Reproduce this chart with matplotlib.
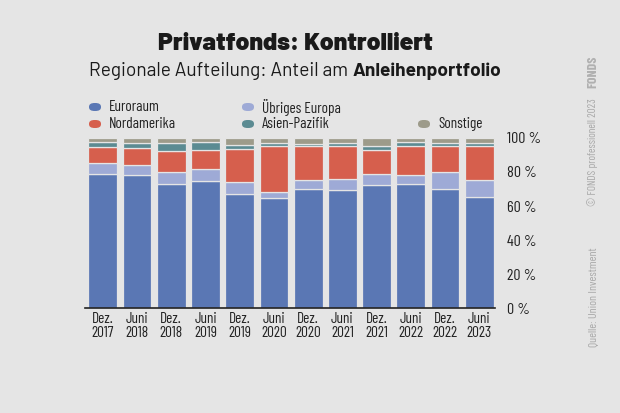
import matplotlib.pyplot as plt
from matplotlib.patches import FancyBboxPatch
import numpy as np

plt.rcParams['font.family'] = ['Barlow Condensed', 'DejaVu Sans']
title_font = ['Barlow', 'DejaVu Sans']

labels = ['Dez.\n2017', 'Juni\n2018', 'Dez.\n2018', 'Juni\n2019', 'Dez.\n2019', 'Juni\n2020',
          'Dez.\n2020', 'Juni\n2021', 'Dez.\n2021', 'Juni\n2022', 'Dez.\n2022', 'Juni\n2023']
euroraum = [79, 78, 73, 74.5, 67, 64.5, 70, 69.5, 72.5, 73, 70, 65]
uebriges_europa = [6.5, 6, 7, 7, 7, 4, 5.5, 6.5, 6.5, 5.5, 10, 10]
nordamerika = [9, 10, 12.5, 11.5, 19.5, 27, 19.5, 19, 14, 17, 15, 20]
asien_pazifik = [3, 3, 4.5, 4.5, 2.5, 1.5, 1.5, 2, 2, 2, 2, 2]
sonstige = [2.5, 3, 3, 2.5, 4, 3, 3.5, 3, 5, 2.5, 3, 3]

series = [('Euroraum', euroraum, '#5a77b4'),
          ('Übriges Europa', uebriges_europa, '#9eaad6'),
          ('Nordamerika', nordamerika, '#d65f4d'),
          ('Asien-Pazifik', asien_pazifik, '#5b8b92'),
          ('Sonstige', sonstige, '#9d9b8a')]

bg = '#e5e5e5'
fig = plt.figure(figsize=(6.2, 4.13), dpi=100, facecolor=bg)
ax = fig.add_axes([0.137, 0.254, 0.661, 0.412], facecolor=bg)

x = np.arange(len(labels))
bottom = np.zeros(len(labels))
for name, vals, col in series:
    ax.bar(x, vals, bottom=bottom, width=0.84, color=col, edgecolor=bg, linewidth=0.9)
    bottom += np.array(vals)

ax.set_xlim(-0.52, 11.45)
ax.set_ylim(0, 100)
for s in ['top', 'left', 'right']:
    ax.spines[s].set_visible(False)
ax.spines['bottom'].set_color('#222222')
ax.spines['bottom'].set_linewidth(1.2)
ax.set_xticks(x)
ax.set_xticklabels(labels, fontsize=11, color='#222222', linespacing=1.0)
ax.tick_params(axis='x', length=0, pad=3)
ax.yaxis.tick_right()
ax.set_yticks([0, 20, 40, 60, 80, 100])
ax.set_yticklabels([f'{v} %' for v in [0, 20, 40, 60, 80, 100]], fontsize=11.5, color='#222222')
ax.tick_params(axis='y', length=0, pad=9)

# title, sized to the reference widths
r = fig.canvas.get_renderer()
title = fig.text(0.476, 0.894, 'Privatfonds: Kontrolliert', ha='center', va='center',
                 fontsize=10, fontweight='black', color='#1a1a1a', family=title_font)
w = title.get_window_extent(r).width
title.set_fontsize(10 * 274 / w)

t1 = fig.text(0, 0.828, 'Regionale Aufteilung: Anteil am ', ha='left', va='center',
              fontsize=10, color='#1a1a1a', family=title_font)
t2 = fig.text(0, 0.828, 'Anleihenportfolio', ha='left', va='center',
              fontsize=10, fontweight='bold', color='#1a1a1a', family=title_font)
wsum = t1.get_window_extent(r).width + t2.get_window_extent(r).width
fs = 10 * 412 / wsum
t1.set_fontsize(fs)
t2.set_fontsize(fs)
w1 = t1.get_window_extent(r).width / 620
w2 = t2.get_window_extent(r).width / 620
x0 = 0.4758 - (w1 + w2) / 2
t1.set_x(x0)
t2.set_x(x0 + w1)

# legend
legend_pos = [(89, 107, 0), (242, 107, 1), (89, 124, 2), (242, 124, 3), (418, 124, 4)]
for px, py, i in legend_pos:
    name, _, col = series[i]
    fx = px / 620
    fy = 1 - py / 413
    p = FancyBboxPatch((fx, fy - 4 / 413), 12 / 620, 8 / 413,
                       boxstyle='round,pad=0,rounding_size=0.009',
                       transform=fig.transFigure, facecolor=col, edgecolor='none')
    fig.add_artist(p)
    fig.text(fx + 20 / 620, fy, name, ha='left', va='center', fontsize=11, color='#222222')

# side texts
fig.text(0.956, 0.825, 'FONDS', rotation=90, ha='center', va='center',
         fontsize=10, fontweight='bold', color='#b0b0b0')
fig.text(0.956, 0.632, '© FONDS professionell 2023', rotation=90, ha='center', va='center',
         fontsize=8, color='#a8a8a8')
fig.text(0.956, 0.28, 'Quelle: Union Investment', rotation=90, ha='center', va='center',
         fontsize=8.5, color='#a8a8a8')

fig.savefig('out.png', dpi=100, facecolor=bg)
